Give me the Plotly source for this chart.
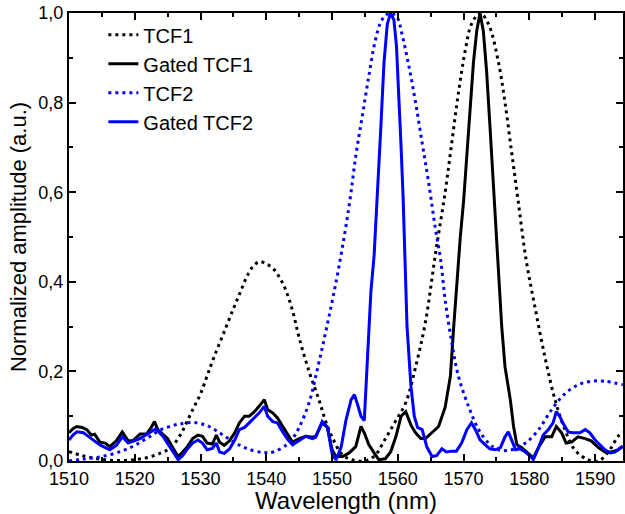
import plotly.graph_objects as go

# TCF1 (dotted black)
tcf1_wl = [1510, 1512, 1514, 1516, 1518, 1520, 1522, 1524, 1525.5, 1527, 1528, 1529,
           1530, 1531, 1532, 1533.5, 1535, 1536, 1537, 1538, 1539, 1540, 1541, 1542,
           1543, 1544, 1545, 1546.5, 1548, 1549, 1550, 1551.5, 1553, 1555, 1556.5, 1558,
           1559.5, 1561.2, 1562.7, 1564.2, 1565.7, 1567.2, 1568.2, 1569.2, 1570.3, 1571.2,
           1572.5, 1573.8, 1575.3, 1576.3, 1577.3, 1578.3, 1579.5, 1580.9, 1582.4, 1583.9,
           1585.4, 1586.9, 1588.9, 1590.5, 1592, 1593.5, 1594.2]
tcf1_val = [0.021, 0.012, 0.006, 0.002, 0.001, 0.003, 0.008, 0.018, 0.03, 0.06, 0.09, 0.12,
            0.15, 0.19, 0.23, 0.285, 0.34, 0.375, 0.41, 0.435, 0.445, 0.44, 0.43, 0.41,
            0.38, 0.335, 0.275, 0.2, 0.137, 0.09, 0.054, 0.015, 0.003, 0.0, 0.012, 0.047,
            0.085, 0.13, 0.21, 0.31, 0.46, 0.6, 0.71, 0.82, 0.92, 0.975,
            1.0, 0.975, 0.89, 0.8, 0.69, 0.58, 0.45, 0.34, 0.23, 0.137,
            0.07, 0.025, 0.003, 0.0, 0.02, 0.055, 0.065]

# TCF2 (dotted blue)
tcf2_wl = [1510, 1512, 1515, 1518, 1520, 1522, 1524, 1526, 1527, 1529, 1531, 1533, 1535,
           1537, 1539.5, 1541, 1543, 1544, 1545, 1546.5, 1548, 1549.5, 1551, 1552.6, 1553.6,
           1554.6, 1555.6, 1556.6, 1557.6, 1558.8, 1559.9, 1560.6, 1561.7, 1562.7, 1563.7,
           1564.7, 1565.7, 1566.5, 1567.2, 1568.2, 1569.2, 1570.8, 1572.3, 1573.8, 1575.3,
           1577.3, 1579.4, 1581.4, 1583.4, 1585.4, 1587.4, 1589.4, 1591.5, 1594.2]
tcf2_val = [0.0, 0.004, 0.01, 0.022, 0.035, 0.052, 0.07, 0.08, 0.083, 0.086, 0.079, 0.062, 0.043,
            0.028, 0.019, 0.02, 0.035, 0.05, 0.075, 0.13, 0.22, 0.32, 0.43, 0.57, 0.68,
            0.77, 0.86, 0.94, 0.985, 1.0, 0.99, 0.955, 0.88, 0.8, 0.71,
            0.62, 0.52, 0.45, 0.36, 0.265, 0.19, 0.12, 0.07, 0.04, 0.025,
            0.025, 0.04, 0.07, 0.115, 0.15, 0.17, 0.178, 0.178, 0.17]

# Gated TCF1 (solid black)
gated1_wl = [1510, 1510.6, 1511.2, 1512, 1512.7, 1513.4, 1513.9, 1514.7, 1515.5, 1516.2,
             1517.2, 1518.1, 1519, 1519.7, 1520.8, 1521.8, 1522.5, 1523, 1523.5, 1524.3,
             1525, 1525.8, 1526.6, 1527.3, 1528, 1528.8, 1529.6, 1530.3, 1531, 1531.8,
             1532.4, 1532.9, 1533.6, 1534.4, 1535.2, 1535.9, 1536.7, 1537.4, 1538.2, 1538.9,
             1539.7, 1540.2, 1541, 1541.7, 1542.5, 1543.3, 1544, 1545, 1546, 1547,
             1547.5, 1548.5, 1549.3, 1550, 1550.6, 1551.6, 1552.6, 1553.6, 1554.4, 1554.9,
             1555.6, 1556.4, 1557.1, 1558.1, 1558.9, 1559.7, 1560.5, 1561.2, 1562, 1562.7,
             1563.5, 1564.2, 1565.2, 1566.2, 1567.2, 1568, 1568.5, 1569, 1569.5, 1570,
             1570.5, 1571, 1571.5, 1572, 1572.5, 1573, 1573.5, 1574, 1574.5, 1575,
             1575.3, 1575.8, 1576.3, 1577.1, 1577.6, 1578.1, 1578.8, 1579.8, 1580.6, 1581.4,
             1582.4, 1583.4, 1584.1, 1584.9, 1585.6, 1586.4, 1587.4, 1588.5, 1589.4, 1590.5,
             1591.5, 1592.5, 1593.5, 1594.2]
gated1_val = [0.063, 0.072, 0.077, 0.075, 0.07, 0.058, 0.06, 0.042, 0.04, 0.032,
              0.045, 0.065, 0.045, 0.045, 0.06, 0.06, 0.075, 0.088, 0.07, 0.06,
              0.05, 0.029, 0.01, 0.02, 0.032, 0.05, 0.058, 0.055, 0.04, 0.038,
              0.058, 0.042, 0.035, 0.045, 0.063, 0.085, 0.1, 0.1, 0.11, 0.122,
              0.137, 0.115, 0.107, 0.096, 0.077, 0.058, 0.042, 0.05, 0.055, 0.053,
              0.055, 0.085, 0.075, 0.025, 0.01, 0.01, 0.018, 0.032, 0.077, 0.063,
              0.036, 0.018, 0.003, 0.005, 0.02, 0.054, 0.1, 0.11, 0.08, 0.063,
              0.05, 0.05, 0.063, 0.077, 0.12, 0.19, 0.3, 0.41, 0.5, 0.58,
              0.68, 0.79, 0.89, 0.96, 1.0, 0.96, 0.87, 0.75, 0.62, 0.49,
              0.43, 0.3, 0.21, 0.137, 0.077, 0.036, 0.03, 0.018, 0.007, 0.03,
              0.054, 0.054, 0.077, 0.063, 0.04, 0.042, 0.054, 0.05, 0.045, 0.03,
              0.02, 0.02, 0.025, 0.033]

# Gated TCF2 (solid blue)
gated2_wl = [1510, 1510.6, 1511.2, 1512.2, 1513.4, 1514.7, 1516.2, 1517.2, 1518.1, 1519,
             1520.8, 1522.5, 1523.2, 1524.3, 1525, 1525.8, 1526.6, 1527.3, 1528, 1528.8,
             1529.6, 1530.3, 1531, 1531.8, 1532.4, 1532.9, 1533.6, 1534.4, 1535.2, 1535.9,
             1536.7, 1537.4, 1538.2, 1538.9, 1539.7, 1540.2, 1541, 1541.7, 1542.5, 1543.3,
             1544, 1545, 1546, 1547, 1547.5, 1548.5, 1549.3, 1550, 1550.6, 1551.4,
             1552.1, 1552.9, 1553.4, 1553.9, 1554.4, 1554.9, 1555.4, 1555.9, 1556.4, 1556.9,
             1557.4, 1557.9, 1558.4, 1558.9, 1559.4, 1559.8, 1560.2, 1560.5, 1560.8, 1561.1,
             1561.4, 1562, 1562.5, 1563, 1563.7, 1564.4, 1565.2, 1565.9, 1566.7, 1567.4,
             1568.2, 1568.9, 1569.7, 1570.5, 1571.2, 1571.8, 1572.5, 1573.3, 1574, 1574.8,
             1575.6, 1576.3, 1576.8, 1577.3, 1577.9, 1578.6, 1579.4, 1580.2, 1580.6, 1581.4,
             1582.1, 1582.9, 1583.6, 1584.1, 1584.6, 1585.1, 1585.9, 1586.6, 1587.7, 1588.5,
             1589.2, 1590, 1590.8, 1591.5, 1592.3, 1593, 1594.2]
gated2_val = [0.047, 0.058, 0.065, 0.063, 0.05, 0.036, 0.025, 0.035, 0.054, 0.04,
              0.05, 0.065, 0.072, 0.055, 0.04, 0.02, 0.003, 0.012, 0.027, 0.04,
              0.047, 0.04, 0.025, 0.028, 0.04, 0.02, 0.017, 0.027, 0.047, 0.07,
              0.075, 0.085, 0.097, 0.107, 0.122, 0.1, 0.088, 0.085, 0.065, 0.047,
              0.036, 0.045, 0.055, 0.05, 0.053, 0.088, 0.075, 0.017, 0.002, 0.032,
              0.09, 0.137, 0.148, 0.125, 0.1, 0.09, 0.227, 0.377, 0.46, 0.59,
              0.74, 0.89, 0.975, 1.0, 0.985, 0.925, 0.81, 0.7, 0.59, 0.46,
              0.3, 0.166, 0.1, 0.075, 0.07, 0.032, 0.01, 0.012, 0.027, 0.02,
              0.022, 0.022, 0.04, 0.07, 0.085, 0.07, 0.047, 0.036, 0.027, 0.025,
              0.03, 0.054, 0.065, 0.047, 0.025, 0.027, 0.02, 0.01, 0.003, 0.03,
              0.058, 0.07, 0.085, 0.11, 0.1, 0.085, 0.065, 0.063, 0.063, 0.07,
              0.063, 0.047, 0.036, 0.025, 0.018, 0.02, 0.033]

BLUE = "#0000ff"
DOTS = "3px,4px"
FONT = "Liberation Sans, Arial"

fig = go.Figure()
fig.add_trace(go.Scatter(x=tcf1_wl, y=tcf1_val, mode="lines", name="TCF1",
                         line=dict(color="black", width=3, dash=DOTS, shape="spline")))
fig.add_trace(go.Scatter(x=gated1_wl, y=gated1_val, mode="lines", name="Gated TCF1",
                         line=dict(color="black", width=3)))
fig.add_trace(go.Scatter(x=tcf2_wl, y=tcf2_val, mode="lines", name="TCF2",
                         line=dict(color=BLUE, width=3, dash=DOTS, shape="spline")))
fig.add_trace(go.Scatter(x=gated2_wl, y=gated2_val, mode="lines", name="Gated TCF2",
                         line=dict(color=BLUE, width=3)))

axis_common = dict(
    showline=True, linecolor="black", linewidth=2, mirror="allticks",
    ticks="inside", ticklen=7, tickwidth=2, tickcolor="black",
    showgrid=False, zeroline=False,
    tickfont=dict(family=FONT, size=18, color="black"),
)

fig.update_xaxes(
    range=[1510, 1594.24], dtick=10, tick0=1510,
    minor=dict(ticks="inside", ticklen=4, tickwidth=2, dtick=5, tickcolor="black"),
    title=dict(text="Wavelength (nm)", standoff=3,
               font=dict(family=FONT, size=24, color="black")),
    **axis_common,
)
fig.update_yaxes(
    range=[0, 1.0], dtick=0.2, tickformat=".1f",
    minor=dict(ticks="inside", ticklen=4, tickwidth=2, dtick=0.1, tickcolor="black"),
    title=dict(text="Normalized amplitude (a.u.)", standoff=6,
               font=dict(family=FONT, size=22, color="black")),
    **axis_common,
)

fig.update_layout(
    width=625, height=514,
    margin=dict(l=69, r=0, t=13, b=53),
    separators=", ",
    plot_bgcolor="white", paper_bgcolor="white",
    font=dict(family=FONT, color="black"),
    legend=dict(x=0.062, y=0.995, xanchor="left", yanchor="top",
                bgcolor="rgba(0,0,0,0)", tracegroupgap=0,
                font=dict(family=FONT, size=20, color="black")),
)

# drop the default 8px page margin so the figure sits at the window's corner
fig.write_html("out.html", config={"displayModeBar": False},
               post_script="document.body.style.margin='0';")
